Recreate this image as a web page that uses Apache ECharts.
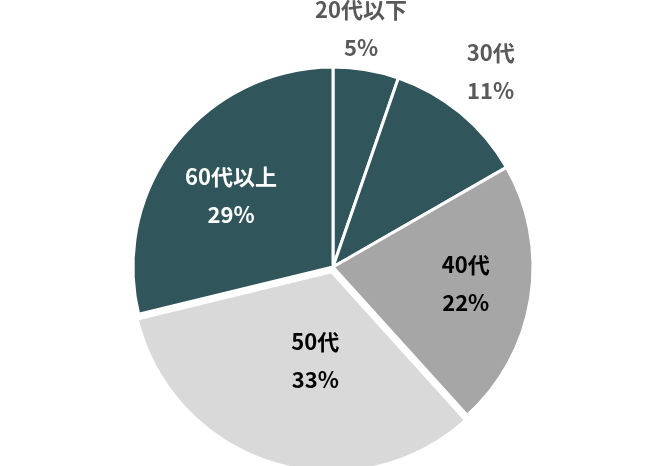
<!DOCTYPE html>
<html><head><meta charset="utf-8">
<script src="https://cdn.jsdelivr.net/npm/echarts@6/dist/echarts.min.js"></script>
<style>html,body{margin:0;padding:0;background:#fff}#c{width:666px;height:466px}</style>
</head><body><div id="c"></div>
<script>
const categories = ['20代以下', '30代', '40代', '50代', '60代以上'];
const values = [5.3, 11.4, 21.6, 32.9, 28.8];

const sliceColors = ['#30555A', '#30555A', '#A6A6A6', '#D9D9D9', '#30555A'];
const labelColors = ['#595959', '#595959', '#000000', '#000000', '#FFFFFF'];
const labelOffsets = [[11, -137], [92, -116], [31, 1], [14, -10], [-21, -8]];

const chart = echarts.init(document.getElementById('c'));
chart.setOption({
  animation: false,
  series: [{
    type: 'pie',
    center: [333, 267],
    radius: [0, 200],
    startAngle: 90,
    clockwise: true,
    selectedMode: 'single',
    selectedOffset: 5,
    itemStyle: { borderColor: '#ffffff', borderWidth: 3 },
    emphasis: { disabled: true },
    label: {
      show: true,
      position: 'inside',
      fontFamily: 'Noto Sans CJK JP',
      fontWeight: 'bold',
      fontSize: 22,
      lineHeight: 38,
      formatter: p => p.name + '\n' + Math.round(p.value) + '%'
    },
    labelLine: { show: false },
    data: categories.map((c, i) => ({
      name: c,
      value: values[i],
      selected: i === 3,
      itemStyle: { color: sliceColors[i] },
      label: { color: labelColors[i], offset: labelOffsets[i] },
      select: {
        itemStyle: { color: sliceColors[i] },
        label: { color: labelColors[i], offset: labelOffsets[i] }
      }
    }))
  }]
});
</script></body></html>
